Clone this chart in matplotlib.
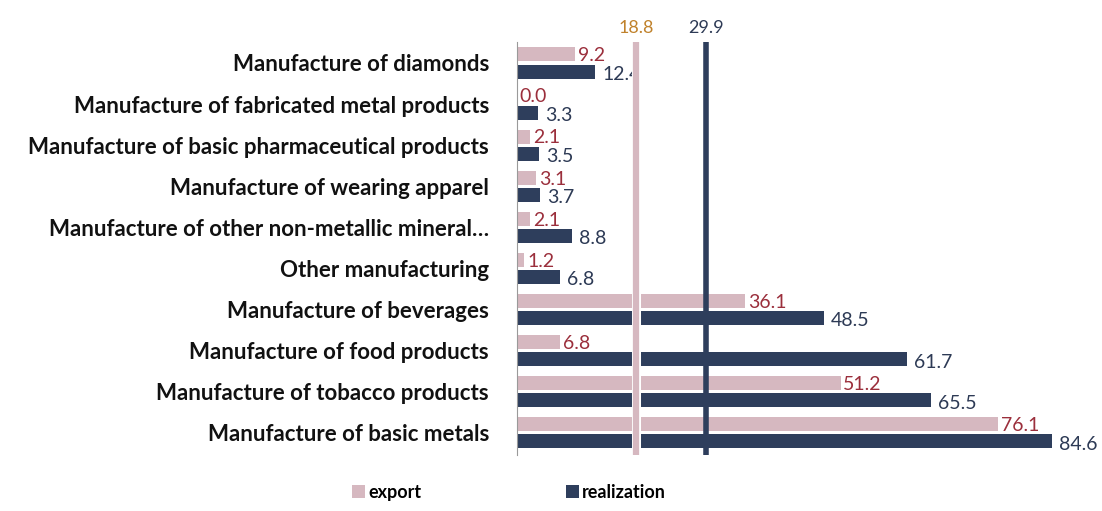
import numpy as np
import matplotlib
matplotlib.use("Agg")
import matplotlib.pyplot as plt
import matplotlib.patheffects as pe

plt.rcParams["font.family"] = ["Lato", "DejaVu Sans"]

categories = [
    "Manufacture of diamonds",
    "Manufacture of fabricated metal products",
    "Manufacture of basic pharmaceutical products",
    "Manufacture of wearing apparel",
    "Manufacture of other non-metallic mineral\u2026",
    "Other manufacturing",
    "Manufacture of beverages",
    "Manufacture of food products",
    "Manufacture of tobacco products",
    "Manufacture of basic metals",
]
export = [9.2, 0.0, 2.1, 3.1, 2.1, 1.2, 36.1, 6.8, 51.2, 76.1]
realization = [12.4, 3.3, 3.5, 3.7, 8.8, 6.8, 48.5, 61.7, 65.5, 84.6]
export_avg = 18.8
realization_avg = 29.9

PINK = "#d6b8c0"
NAVY = "#2e3e5c"
RED_TXT = "#9b2f3c"
NAVY_TXT = "#2d3a55"
ORANGE_TXT = "#c0822c"

fig = plt.figure(figsize=(11.02, 5.11), dpi=100)
ax = fig.add_axes([0.469, 0.1096, 0.5165, 0.8082])

y = np.arange(len(categories))
h = 0.34
off = 0.21
ax.barh(y - off, export, height=h, color=PINK, zorder=2, label="export")
ax.barh(y + off, realization, height=h, color=NAVY, zorder=2, label="realization")

for yi, v in zip(y, export):
    ax.annotate("{:.1f}".format(v), (v, yi - off), xytext=(2, -1), textcoords="offset points",
                ha="left", va="center", color=RED_TXT, fontsize=14)
for yi, v in zip(y, realization):
    ax.annotate("{:.1f}".format(v), (v, yi + off), xytext=(5, -2), textcoords="offset points",
                ha="left", va="center", color=NAVY_TXT, fontsize=14)

# average lines
ax.axvline(export_avg, color=PINK, lw=4.5, zorder=3,
           path_effects=[pe.Stroke(linewidth=6.5, foreground="white"), pe.Normal()])
ax.axvline(realization_avg, color=NAVY, lw=4, zorder=3)
ax.annotate("{:.1f}".format(export_avg), (export_avg, 1), xycoords=("data", "axes fraction"),
            xytext=(0, 4), textcoords="offset points", ha="center", va="bottom",
            color=ORANGE_TXT, fontsize=13, annotation_clip=False)
ax.annotate("{:.1f}".format(realization_avg), (realization_avg, 1), xycoords=("data", "axes fraction"),
            xytext=(0, 4), textcoords="offset points", ha="center", va="bottom",
            color=NAVY_TXT, fontsize=13, annotation_clip=False)

ax.set_yticks(y)
ax.set_yticklabels(categories, fontsize=16, fontweight="bold", color="#111111")
ax.tick_params(axis="y", length=0, pad=20)
ax.set_xticks([])
ax.set_xlim(0, 90)
ax.set_ylim(9.54, -0.51)
for s in ["top", "right", "bottom"]:
    ax.spines[s].set_visible(False)
ax.spines["left"].set_color("#9a9a9a")
ax.spines["left"].set_linewidth(0.8)

handles, labels = ax.get_legend_handles_labels()
fig.legend(handles, labels, loc="lower center", bbox_to_anchor=(0.462, -0.012), ncol=2,
           frameon=False, handlelength=0.7, handleheight=0.7, handletextpad=0.2,
           columnspacing=8.0, prop={"size": 13, "weight": "bold"})

fig.savefig("out.png", dpi=100)
